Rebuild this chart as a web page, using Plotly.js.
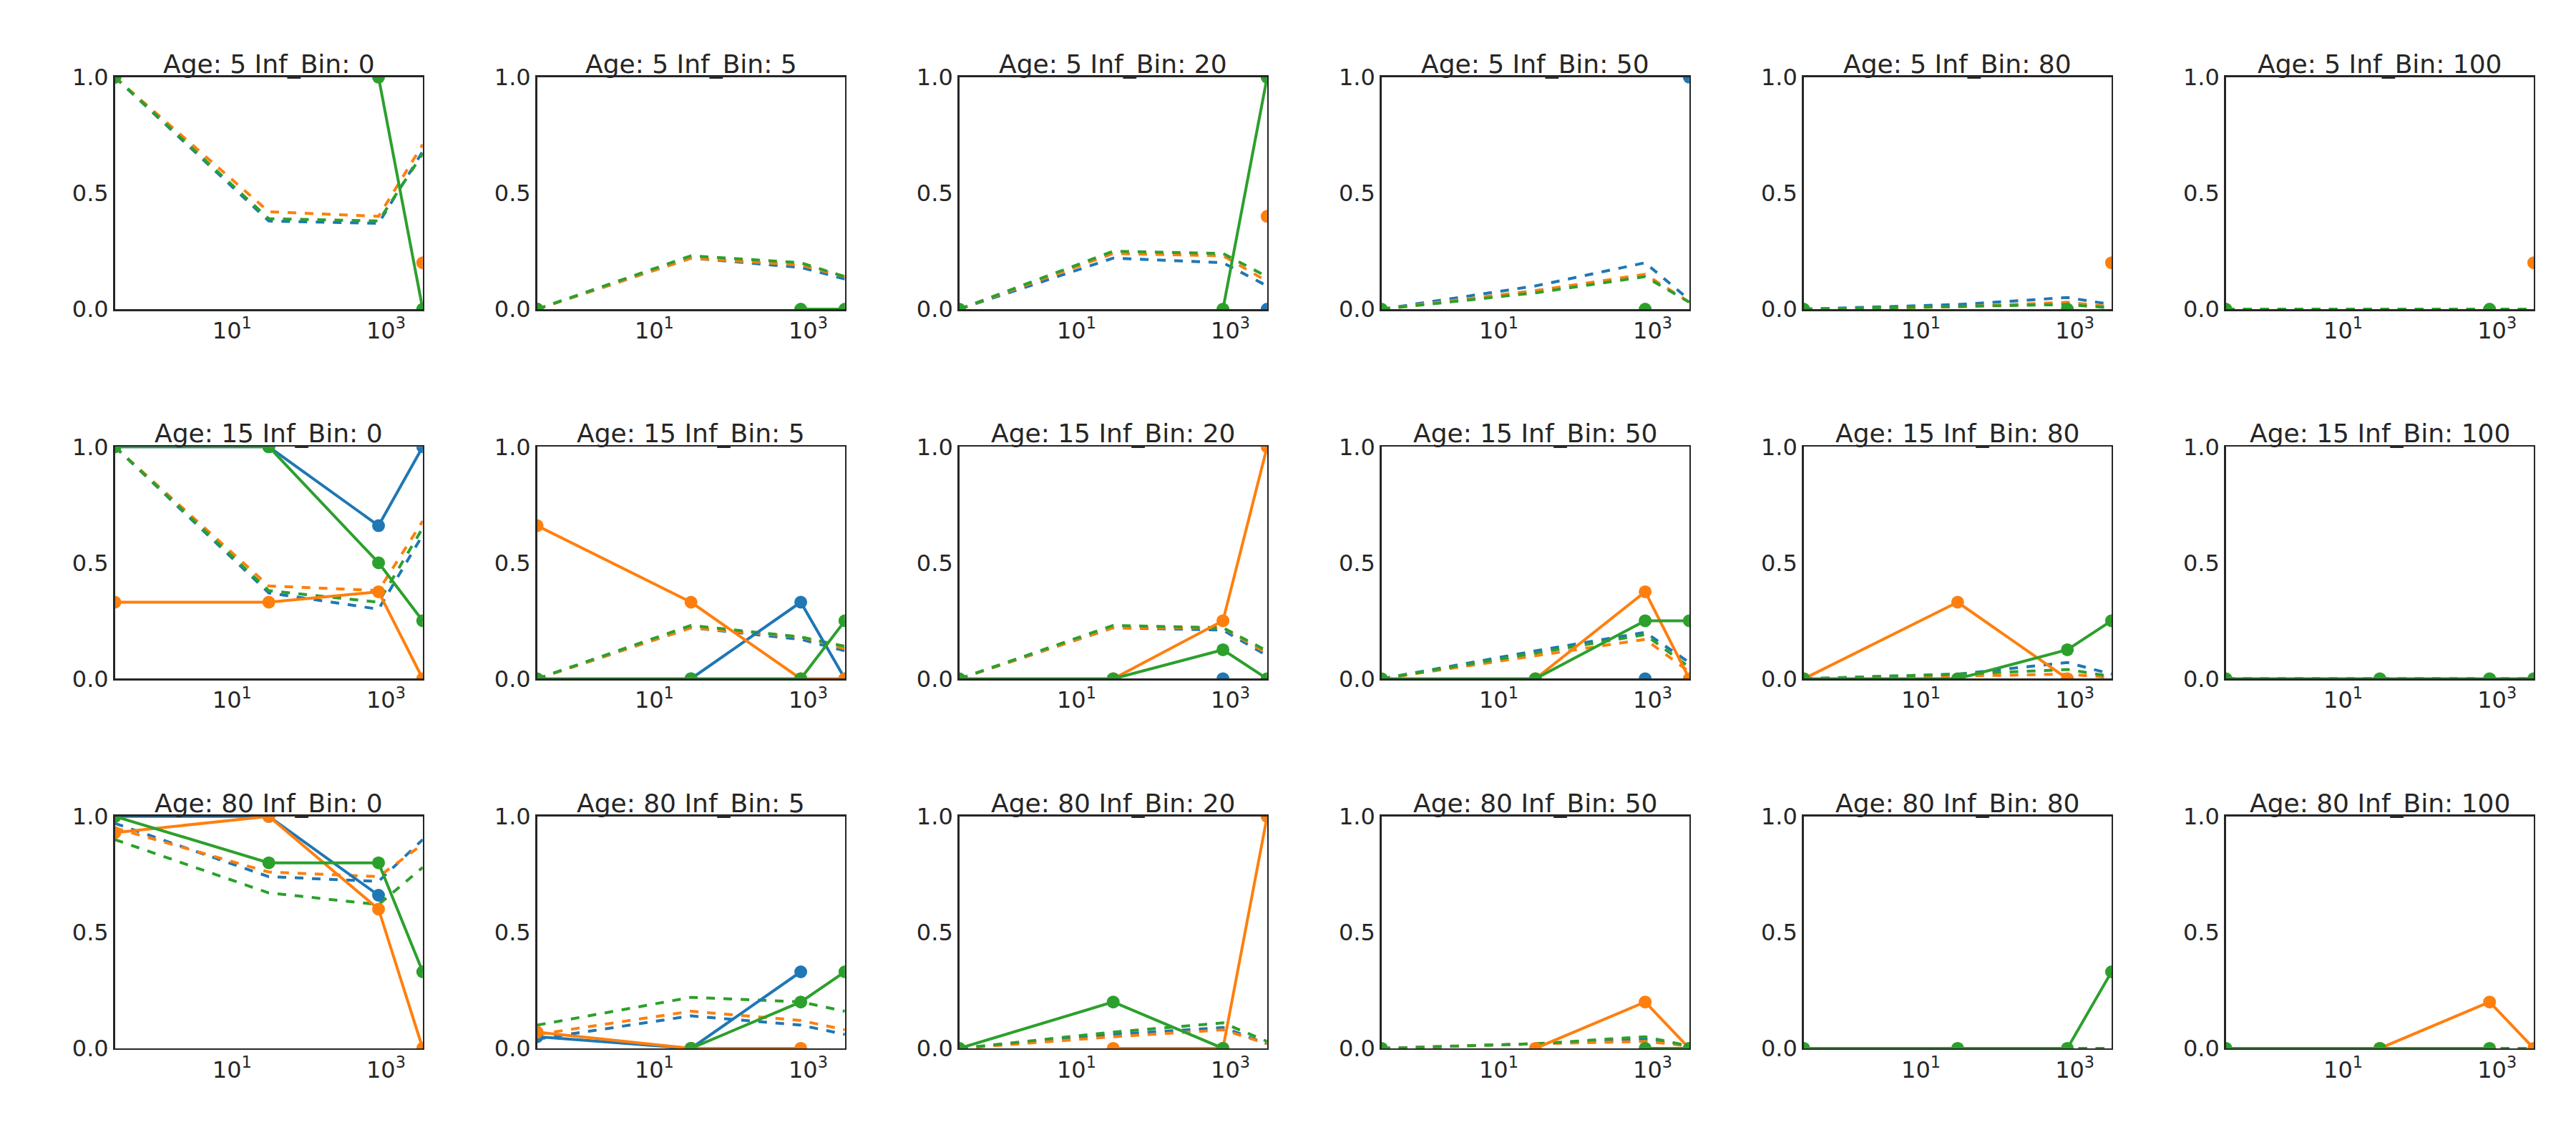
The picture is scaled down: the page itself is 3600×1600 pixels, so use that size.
<!DOCTYPE html>
<html><head><meta charset="utf-8">
<script src="https://cdn.plot.ly/plotly-3.0.1.min.js"></script>
<style>body{margin:0;background:#fff}#c{width:3600px;height:1600px}</style>
</head><body><div id="c"></div>
<script>
const xValues = [0.3, 30, 800, 3000];
const ages = [5, 15, 80];
const infBins = [0, 5, 20, 50, 80, 100];
const N = null;
// panel order: row-major (age) x (inf bin)
const blueSolid = [
 [1,N,N,N],[0,N,N,N],[N,N,N,0],[N,N,N,1],[N,N,N,N],[N,N,N,N],
 [1,1,0.66,1],[N,0,0.33,0],[N,N,0,N],[N,N,0,N],[N,N,N,N],[N,N,N,N],
 [1,1,0.66,N],[0.05,0,0.33,N],[N,N,N,N],[N,N,N,N],[N,N,N,N],[N,N,N,N]];
const orangeSolid = [
 [1,N,N,0.2],[0,N,N,N],[N,N,N,0.4],[N,N,N,N],[N,N,N,0.2],[N,N,N,0.2],
 [0.33,0.33,0.375,0],[0.66,0.33,0,0],[N,0,0.25,1],[N,0,0.375,0],[0,0.33,0,N],[N,N,N,N],
 [0.93,1,0.6,0],[0.07,0,0,N],[N,0,0,1],[N,0,0.2,0],[N,N,N,N],[N,0,0.2,0]];
const greenSolid = [
 [1,N,1,0],[0,N,0,0],[0,N,0,1],[0,N,0,N],[0,N,0,N],[0,N,0,N],
 [1,1,0.5,0.25],[0,0,0,0.25],[0,0,0.125,0],[0,0,0.25,0.25],[0,0,0.125,0.25],[0,0,0,0],
 [1,0.8,0.8,0.33],[N,0,0.2,0.33],[0,0.2,0,N],[0,N,0,0],[0,0,0,0.33],[0,0,0,N]];
const blueDashed = [
 [1,0.38,0.37,0.68],[0,0.22,0.18,0.13],[0,0.22,0.20,0.10],[0,0.10,0.20,0.04],[0,0.02,0.05,0.02],[0,0,0,0],
 [1,0.37,0.30,0.62],[0,0.22,0.17,0.12],[0,0.22,0.21,0.10],[0,0.12,0.20,0.07],[0,0.02,0.07,0.02],[0,0,0,0],
 [0.97,0.74,0.72,0.9],[0.04,0.14,0.10,0.06],[0,0.06,0.09,0.02],[0,0.02,0.04,0.01],[0,0,0,0],[0,0,0,0]];
const orangeDashed = [
 [1,0.42,0.40,0.71],[0,0.22,0.19,0.14],[0,0.24,0.23,0.12],[0,0.08,0.15,0.03],[0,0.01,0.03,0.01],[0,0,0,0],
 [1,0.40,0.38,0.68],[0,0.22,0.18,0.13],[0,0.22,0.22,0.11],[0,0.10,0.17,0.03],[0,0.01,0.02,0.005],[0,0,0,0],
 [0.95,0.76,0.74,0.88],[0.06,0.16,0.12,0.08],[0,0.05,0.08,0.02],[0,0.02,0.03,0.01],[0,0,0,0],[0,0,0,0]];
const greenDashed = [
 [1,0.39,0.38,0.67],[0,0.23,0.20,0.14],[0,0.25,0.24,0.14],[0,0.07,0.14,0.03],[0,0.01,0.02,0.005],[0,0,0,0],
 [1,0.38,0.33,0.65],[0,0.23,0.18,0.14],[0,0.23,0.22,0.12],[0,0.11,0.19,0.05],[0,0.02,0.04,0.01],[0,0,0,0],
 [0.9,0.67,0.62,0.78],[0.1,0.22,0.20,0.16],[0,0.07,0.11,0.03],[0,0.02,0.05,0.01],[0,0,0,0],[0,0,0,0]];
const colors = ['#1f77b4','#ff7f0e','#2ca02c'];
const xTickVals = [10, 1000];
const xTickText = ['10<sup>1</sup>','10<sup>3</sup>'];
const yTickVals = [0, 0.5, 1];
const yTickText = ['0.0','0.5','1.0'];

const traces = [], annotations = [];
const layout = {width:3600,height:1600,margin:{l:0,r:0,t:0,b:0},paper_bgcolor:'#fff',plot_bgcolor:'#fff',
  showlegend:false,font:{family:'DejaVu Sans',size:32,color:'#262626'}};
const colX0 = 0.0446, colW = 0.1195, colStep = 0.1639;
const rowTop = [0.9326, 0.6098, 0.287], rowH = 0.2026;
const solids = [blueSolid, orangeSolid, greenSolid];
const dashes = [blueDashed, orangeDashed, greenDashed];
for (let r = 0; r < 3; r++) for (let c = 0; c < 6; c++) {
  const i = r*6 + c, n = i + 1;
  const xa = 'x' + (n===1?'':n), ya = 'y' + (n===1?'':n);
  const xd = [colX0 + c*colStep, colX0 + c*colStep + colW];
  const yd = [rowTop[r]-rowH, rowTop[r]];
  const axBase = {showline:true,mirror:true,linecolor:'#262626',linewidth:2.5,showgrid:false,zeroline:false,ticks:'',
    tickfont:{size:32,color:'#262626'}};
  layout['xaxis'+(n===1?'':n)] = Object.assign({}, axBase, {type:'log',domain:xd,anchor:ya,
    range:[Math.log10(xValues[0]), Math.log10(xValues[3])],tickvals:xTickVals,ticktext:xTickText});
  layout['yaxis'+(n===1?'':n)] = Object.assign({}, axBase, {domain:yd,anchor:xa,range:[0,1],
    tickvals:yTickVals,ticktext:yTickText});
  for (let s = 0; s < 3; s++) {
    traces.push({x:xValues,y:dashes[s][i],xaxis:xa,yaxis:ya,mode:'lines',
      line:{color:colors[s],width:4,dash:'dash'}});
  }
  for (let s = 0; s < 3; s++) {
    traces.push({x:xValues,y:solids[s][i],xaxis:xa,yaxis:ya,mode:'lines+markers',connectgaps:false,
      line:{color:colors[s],width:4},marker:{color:colors[s],size:18}});
  }
  annotations.push({text:'Age: '+ages[r]+' Inf_Bin: '+infBins[c],xref:'paper',yref:'paper',
    x:(xd[0]+xd[1])/2,y:yd[1],xanchor:'center',yanchor:'bottom',yshift:-4,showarrow:false,
    font:{size:36,color:'#262626'}});
}
layout.annotations = annotations;
Plotly.newPlot('c', traces, layout, {staticPlot:true});
</script></body></html>
